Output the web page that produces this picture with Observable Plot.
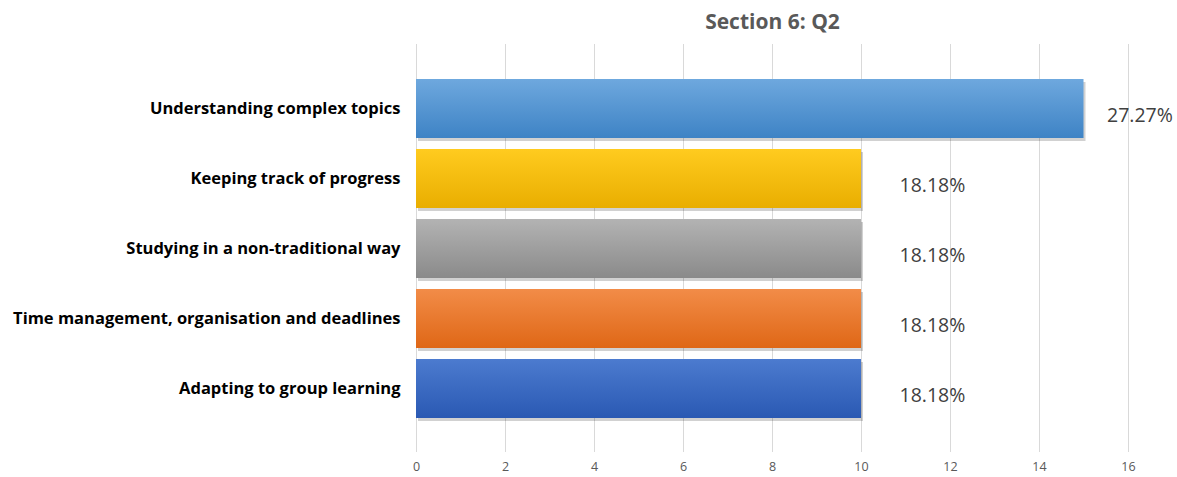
<!DOCTYPE html>
<html><head><meta charset="utf-8">
<script src="https://cdn.jsdelivr.net/npm/d3@7"></script>
<script src="https://cdn.jsdelivr.net/npm/@observablehq/plot@0.6"></script>
<style>body{margin:0;background:#fff;font-family:"Open Sans",sans-serif;overflow:hidden}</style>
</head><body><div id="chart"></div>
<script>
const title = "Section 6: Q2";
const categories = ["Understanding complex topics","Keeping track of progress","Studying in a non-traditional way","Time management, organisation and deadlines","Adapting to group learning"];
const values = [15, 10, 10, 10, 10];
const percentLabels = ["27.27%","18.18%","18.18%","18.18%","18.18%"];
const xTicks = [0,2,4,6,8,10,12,14,16];
const gradTop = ["#6ea8de","#ffcb1f","#b3b3b3","#f28c48","#4c7bcf"];
const gradBottom = ["#3e83c5","#e9ae00","#8a8a8a","#df6716","#2a59b3"];

const data = categories.map((c,i)=>({cat:c, value:values[i], label:percentLabels[i], gid:"g"+i}));

const chart = Plot.plot({
  width:1177, height:477,
  marginLeft:416, marginRight:49, marginTop:44, marginBottom:25,
  style:{fontFamily:"Open Sans, sans-serif", background:"#fff"},
  x:{domain:[0,16], ticks:xTicks, label:null},
  y:{domain:categories, label:null, paddingInner:0.163, paddingOuter:0.48},
  marks:[
    Plot.gridX(xTicks,{stroke:"#d9d9d9", strokeOpacity:1}),
    Plot.barX(data,{x:"value", y:"cat", fill:"#000", fillOpacity:0.18, dx:2, dy:3}),
    Plot.barX(data,{x:"value", y:"cat", fill:d=>`url(#${d.gid})`}),
    Plot.text(data.filter(d=>d.value>10),{x:"value", y:"cat", text:"label", textAnchor:"start", dx:23, dy:7, fontSize:19.5, fill:"#404040"}),
    Plot.text(data.filter(d=>d.value<=10),{x:"value", y:"cat", text:"label", textAnchor:"start", dx:38, dy:7, fontSize:19.5, fill:"#404040"}),
    Plot.axisX({ticks:xTicks, tickSize:0, tickPadding:10, fontSize:12.5, color:"#595959", label:null}),
    Plot.axisY({tickSize:0, tickPadding:16, fontSize:16.5, fontWeight:"bold", color:"#000", label:null}),
    Plot.text([title],{frameAnchor:"top", lineAnchor:"middle", dy:-22, fontSize:21, fontWeight:"bold", fill:"#595959"})
  ]
});
const svg = d3.select(chart);
const defs = svg.insert("defs",":first-child");
data.forEach((d,i)=>{
  const g = defs.append("linearGradient").attr("id",d.gid).attr("x1",0).attr("y1",0).attr("x2",0).attr("y2",1);
  g.append("stop").attr("offset","0%").attr("stop-color",gradTop[i]);
  g.append("stop").attr("offset","100%").attr("stop-color",gradBottom[i]);
});
document.getElementById("chart").appendChild(chart);
</script></body></html>
